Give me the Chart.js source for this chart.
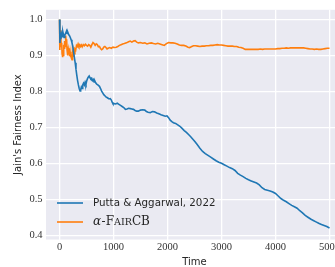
<!DOCTYPE html>
<html>
<head>
<meta charset="utf-8">
<script src="https://cdn.jsdelivr.net/npm/chart.js@4/dist/chart.umd.min.js"></script>
<style>
html,body{margin:0;padding:0;background:#ffffff;overflow:hidden;width:335px;height:267px;}
canvas{display:block;}
</style>
</head>
<body>
<canvas id="c" width="350" height="267"></canvas>
<script>
// ---- data ----
const seriesNames = ["Putta & Aggarwal, 2022", "α-FairCB"];
const xTicks = [0, 1000, 2000, 3000, 4000, 5000];
const yTicks = [0.4, 0.5, 0.6, 0.7, 0.8, 0.9, 1.0];

const blueT = [0,8,15,25,37,50,62,74,85,99,115,130,142,155,170,185,200,215,230,245,260,275,290,305,320,335,350,365,380,392,405,418,430,445,460,475,490,505,520,535,550,565,580,595,610,625,640,655,670,690,710,740,760,780,800,820,840,860,880,900,920,940,960,975,990,1010,1040,1070,1100,1130,1160,1190,1220,1250,1280,1310,1340,1370,1400,1430,1460,1500,1540,1580,1610,1640,1680,1720,1760,1800,1840,1880,1920,1960,1990,2020,2050,2080,2110,2150,2190,2230,2270,2310,2350,2390,2430,2470,2510,2550,2600,2650,2700,2750,2800,2850,2900,2950,3000,3050,3100,3150,3200,3250,3300,3350,3400,3450,3500,3550,3600,3650,3700,3750,3800,3850,3900,3950,4000,4050,4100,4150,4200,4250,4300,4350,4400,4450,4500,4550,4600,4650,4700,4750,4800,4850,4900,4950,5000];
const blueV = [1.0,0.935,0.955,0.945,0.96,0.952,0.966,0.958,0.95,0.957,0.962,0.968,0.961,0.964,0.958,0.955,0.95,0.944,0.936,0.925,0.91,0.895,0.88,0.862,0.845,0.83,0.818,0.808,0.801,0.804,0.812,0.808,0.818,0.823,0.818,0.826,0.82,0.83,0.836,0.84,0.843,0.838,0.835,0.837,0.83,0.833,0.826,0.829,0.824,0.82,0.818,0.814,0.808,0.801,0.796,0.791,0.788,0.785,0.783,0.781,0.779,0.78,0.776,0.77,0.766,0.766,0.765,0.767,0.764,0.761,0.758,0.755,0.75,0.751,0.753,0.752,0.751,0.75,0.747,0.745,0.745,0.748,0.749,0.748,0.744,0.742,0.741,0.744,0.743,0.74,0.738,0.735,0.733,0.731,0.732,0.727,0.72,0.716,0.713,0.711,0.707,0.703,0.697,0.691,0.686,0.68,0.674,0.667,0.66,0.652,0.642,0.633,0.627,0.622,0.617,0.612,0.607,0.603,0.6,0.596,0.592,0.588,0.585,0.58,0.572,0.567,0.563,0.558,0.554,0.551,0.548,0.545,0.54,0.532,0.527,0.525,0.523,0.52,0.516,0.509,0.502,0.497,0.493,0.488,0.483,0.479,0.475,0.468,0.462,0.455,0.45,0.445,0.441,0.437,0.433,0.43,0.427,0.424,0.42];

const orangeT = [0,4,8,14,20,26,32,40,48,55,62,70,78,86,94,102,110,118,125,132,140,148,156,164,172,180,188,196,204,212,222,232,242,252,262,272,285,300,315,330,345,360,375,390,405,420,440,460,480,500,520,540,560,580,600,620,640,660,680,700,720,740,760,780,800,820,840,860,880,900,930,960,990,1020,1050,1080,1110,1140,1170,1200,1240,1280,1310,1340,1370,1400,1430,1460,1500,1540,1580,1620,1660,1700,1740,1780,1820,1860,1900,1940,1980,2020,2060,2100,2140,2180,2220,2260,2300,2340,2380,2410,2440,2480,2520,2560,2600,2640,2680,2720,2760,2800,2840,2880,2920,2960,3000,3040,3080,3120,3160,3200,3240,3280,3320,3360,3400,3440,3480,3520,3560,3600,3640,3680,3720,3760,3800,3840,3880,3920,3960,4000,4040,4080,4120,4160,4200,4240,4280,4320,4360,4400,4440,4480,4520,4560,4600,4640,4680,4720,4760,4800,4840,4880,4920,4960,5000];
const orangeV = [1.0,0.93,0.915,0.97,0.94,0.958,0.925,0.935,0.905,0.895,0.915,0.9,0.93,0.92,0.94,0.925,0.948,0.955,0.935,0.945,0.915,0.925,0.9,0.915,0.905,0.92,0.898,0.91,0.895,0.905,0.892,0.888,0.905,0.898,0.912,0.905,0.918,0.915,0.928,0.925,0.932,0.926,0.93,0.925,0.929,0.924,0.93,0.927,0.931,0.928,0.926,0.93,0.928,0.923,0.93,0.936,0.933,0.928,0.932,0.93,0.924,0.925,0.919,0.916,0.918,0.923,0.925,0.922,0.918,0.92,0.922,0.92,0.923,0.922,0.923,0.925,0.928,0.93,0.932,0.933,0.935,0.938,0.94,0.937,0.94,0.941,0.937,0.935,0.936,0.934,0.935,0.932,0.934,0.935,0.933,0.932,0.934,0.932,0.93,0.928,0.933,0.936,0.935,0.935,0.934,0.932,0.929,0.928,0.928,0.926,0.923,0.922,0.924,0.927,0.927,0.926,0.925,0.926,0.926,0.927,0.927,0.928,0.928,0.929,0.93,0.929,0.929,0.928,0.927,0.926,0.926,0.926,0.925,0.925,0.923,0.922,0.92,0.917,0.917,0.917,0.917,0.917,0.917,0.917,0.918,0.917,0.918,0.918,0.918,0.918,0.918,0.918,0.919,0.919,0.92,0.92,0.921,0.92,0.921,0.921,0.921,0.921,0.921,0.921,0.921,0.92,0.919,0.918,0.918,0.917,0.918,0.917,0.917,0.918,0.919,0.92,0.92];

const colors = ["#1f77b4", "#ff7f0e"];

// ---- plugins ----
const bgPlugin = {
  id: 'bg',
  beforeDraw(chart) {
    const {ctx, chartArea: a} = chart;
    ctx.save();
    ctx.fillStyle = '#eaeaf2';
    ctx.fillRect(a.left, a.top, a.right - a.left, a.bottom - a.top);
    ctx.restore();
  }
};

function drawSmallCaps(ctx, text, x, y, bigFont, smallFont) {
  let cx = x;
  let i = 0;
  while (i < text.length) {
    const ch = text[i];
    const lower = ch !== ch.toUpperCase();
    let j = i;
    while (j < text.length && ((text[j] !== text[j].toUpperCase()) === lower)) j++;
    const seg = text.slice(i, j);
    ctx.font = lower ? smallFont : bigFont;
    const s = lower ? seg.toUpperCase() : seg;
    ctx.fillText(s, cx, y);
    cx += ctx.measureText(s).width;
    i = j;
  }
}

const legendPlugin = {
  id: 'customLegend',
  afterDatasetsDraw(chart) {
    const ctx = chart.ctx;
    const ds = chart.data.datasets;
    const x0 = 57, x1 = 83, tx = 93, y0 = 203, dy = 19;
    ctx.save();
    ds.forEach((d, k) => {
      const y = y0 + k * dy;
      ctx.strokeStyle = d.borderColor;
      ctx.lineWidth = 1.6;
      ctx.beginPath();
      ctx.moveTo(x0, y);
      ctx.lineTo(x1, y);
      ctx.stroke();
      ctx.fillStyle = '#262626';
      ctx.textBaseline = 'middle';
      ctx.textAlign = 'left';
      if (k === 0) {
        ctx.font = '10.3px "DejaVu Sans"';
        ctx.fillText(d.label, tx, y);
      } else {
        const lbl = d.label;
        ctx.font = 'italic 12px "DejaVu Serif"';
        ctx.fillText(lbl[0], tx, y);
        let cx = tx + ctx.measureText(lbl[0]).width + 0.5;
        drawSmallCaps(ctx, lbl.slice(1), cx, y, '12px "DejaVu Serif"', '9.6px "DejaVu Serif"');
      }
    });
    ctx.restore();
  }
};

const tickFont = {family: '"Liberation Serif"', size: 10.5};

new Chart(document.getElementById('c'), {
  type: 'line',
  data: {
    datasets: [
      {label: seriesNames[0], data: blueT.map((t, i) => ({x: t, y: blueV[i]})), borderColor: colors[0], borderWidth: 1.6, pointRadius: 0, tension: 0, fill: false},
      {label: seriesNames[1], data: orangeT.map((t, i) => ({x: t, y: orangeV[i]})), borderColor: colors[1], borderWidth: 1.6, pointRadius: 0, tension: 0, fill: false}
    ]
  },
  options: {
    responsive: false,
    animation: false,
    devicePixelRatio: 1,
    layout: {padding: {top: 3, right: 7, left: 0, bottom: 0}},
    plugins: {legend: {display: false}, tooltip: {enabled: false}},
    scales: {
      x: {
        type: 'linear', min: -250, max: 5250,
        afterBuildTicks(s) { s.ticks = xTicks.map(v => ({value: v})); },
        afterFit(s) { s.height = 27.5; },
        grid: {color: '#ffffff', lineWidth: 1.3, drawTicks: false},
        border: {display: false},
        ticks: {font: tickFont, color: '#333333', padding: 1, maxRotation: 0, callback: v => String(v)},
        title: {display: true, text: 'Time', font: {family: '"DejaVu Sans"', size: 10, lineHeight: 0.9}, color: '#262626', padding: 0}
      },
      y: {
        type: 'linear', min: 0.388, max: 1.027,
        afterBuildTicks(s) { s.ticks = yTicks.map(v => ({value: v})); },
        afterFit(s) { s.width = 46; },
        grid: {color: '#ffffff', lineWidth: 1.3, drawTicks: false},
        border: {display: false},
        ticks: {font: tickFont, color: '#333333', padding: 3.5, callback: v => Number(v).toFixed(1)},
        title: {display: true, text: "Jain's Fairness Index", font: {family: '"DejaVu Sans"', size: 10}, color: '#262626', padding: {top: 12, bottom: 0}}
      }
    }
  },
  plugins: [bgPlugin, legendPlugin]
});
</script>
</body>
</html>
